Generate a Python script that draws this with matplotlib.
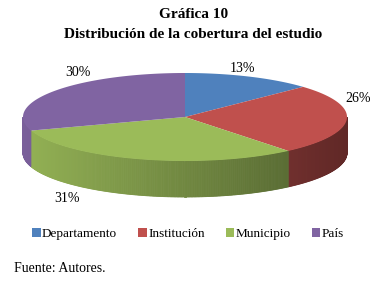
import matplotlib.pyplot as plt
import numpy as np
from matplotlib.patches import Polygon, Patch
from matplotlib.colors import to_rgb

categories = ['Departamento', 'Institución', 'Municipio', 'País']
values = [13, 26, 31, 30]
colors = ['#4f81bd', '#c0504d', '#9bbb59', '#8064a2']
label_pos = [(242, 68), (358, 98), (67, 198), (78, 72)]

plt.rcParams['font.family'] = ['Liberation Serif', 'DejaVu Serif']

# geometría de la elipse (en píxeles)
cx, cy = 185, 117
a, b = 162, 44
depth = 36


def pt(theta, dy=0):
    # theta en grados, sentido horario desde arriba
    t = np.radians(theta)
    return cx + a * np.sin(t), cy - b * np.cos(t) + dy


def shade(color, f):
    r, g, bb = to_rgb(color)
    return (r * f, g * f, bb * f)


fig = plt.figure(figsize=(3.89, 2.84), dpi=100)
ax = fig.add_axes([0, 0, 1, 1])
ax.set_xlim(0, 389)
ax.set_ylim(284, 0)
ax.axis('off')

bounds = np.concatenate([[0], np.cumsum(values)]) / sum(values) * 360

# paredes laterales (solo la parte frontal, 90°..270°)
for i, c in enumerate(colors):
    t0, t1 = max(bounds[i], 90), min(bounds[i + 1], 270)
    if t1 <= t0:
        continue
    ts = np.linspace(t0, t1, int((t1 - t0) * 2) + 2)
    for k in range(len(ts) - 1):
        x0, y0 = pt(ts[k])
        x1, y1 = pt(ts[k + 1])
        xm = (x0 + x1) / 2
        f = 0.95 - 0.45 * (xm - (cx - a)) / (2 * a)
        quad = [(x0, y0), (x1, y1), (x1, y1 + depth), (x0, y0 + depth)]
        ax.add_patch(Polygon(quad, closed=True, facecolor=shade(c, f),
                             edgecolor=shade(c, f), linewidth=0.6))

# caras superiores
for i, c in enumerate(colors):
    ts = np.linspace(bounds[i], bounds[i + 1], 100)
    verts = [(cx, cy)] + [pt(t) for t in ts]
    ax.add_patch(Polygon(verts, closed=True, facecolor=c, edgecolor='none'))

for (x, y), v in zip(label_pos, values):
    ax.text(x, y, f'{v}%', ha='center', va='center', fontsize=10)

ax.text(194, 15, 'Gráfica 10', ha='center', va='center',
        fontsize=11, fontweight='bold')
ax.text(193, 34, 'Distribución de la cobertura del estudio', ha='center',
        va='center', fontsize=11, fontweight='bold')

handles = [Patch(facecolor=c, edgecolor='none') for c in colors]
fig.legend(handles, categories, loc='center', ncol=4,
           bbox_to_anchor=(188 / 389, 1 - 234 / 284), frameon=False,
           fontsize=9.5, handlelength=0.65, handleheight=0.65,
           handletextpad=0.1, columnspacing=1.6)

ax.text(14, 268, 'Fuente: Autores.', ha='left', va='center', fontsize=10)

fig.savefig('out.png', dpi=100)
